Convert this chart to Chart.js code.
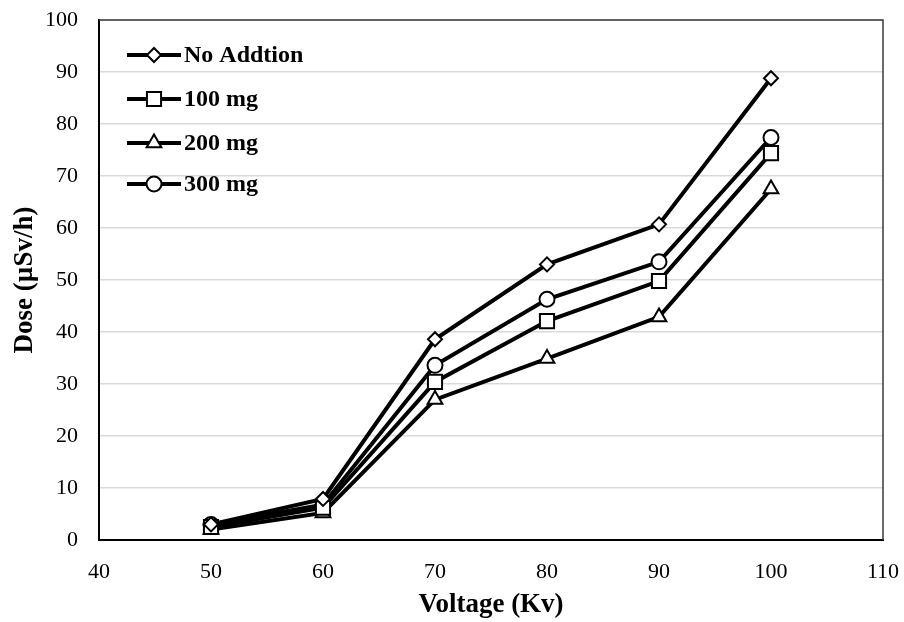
<!DOCTYPE html>
<html lang="en">
<head>
    <meta charset="UTF-8">
    <title>Dose vs Voltage</title>
    <script src="https://cdn.jsdelivr.net/npm/chart.js"></script>
    <style>
        body {
            margin: 0;
            padding: 0;
            background-color: #ffffff;
        }
    </style>
</head>
<body>
    <canvas id="doseChart" width="904" height="622"></canvas>

    <script>
        // voltage (Kv) on the x axis
        const voltages = [50, 60, 70, 80, 90, 100];

        // dose readings (µSv/h) for each addition
        const noAddition = [3.0, 7.9, 38.6, 53.0, 60.7, 88.8];
        const mg100 = [2.5, 6.2, 30.4, 42.1, 49.8, 74.4];
        const mg200 = [2.0, 5.2, 27.0, 34.9, 42.9, 67.5];
        const mg300 = [3.0, 6.8, 33.6, 46.3, 53.5, 77.4];

        const seriesLabels = ['No Addtion', '100 mg', '200 mg', '300 mg'];

        const serif = "'Liberation Serif', 'Times New Roman', serif";

        function toPoints(values) {
            return voltages.map((v, i) => ({ x: v, y: values[i] }));
        }

        function makeSet(label, values, shape, radius) {
            return {
                label: label,
                data: toPoints(values),
                borderColor: '#000000',
                borderWidth: 4,
                pointStyle: shape,
                pointRadius: radius,
                pointBorderWidth: 2,
                pointBackgroundColor: '#ffffff',
                pointBorderColor: '#000000',
                fill: false,
                tension: 0
            };
        }

        // thin frame on the top and right of the plot area
        const plotFrame = {
            id: 'plotFrame',
            beforeDatasetsDraw(chart) {
                const { ctx, chartArea: a } = chart;
                ctx.save();
                ctx.strokeStyle = '#3a3a3a';
                ctx.lineWidth = 1.5;
                ctx.beginPath();
                ctx.moveTo(a.left, a.top);
                ctx.lineTo(a.right, a.top);
                ctx.lineTo(a.right, a.bottom);
                ctx.stroke();
                ctx.restore();
            }
        };

        // legend drawn inside the plot area, top left
        const insideLegend = {
            id: 'insideLegend',
            afterDatasetsDraw(chart) {
                const ctx = chart.ctx;
                const area = chart.chartArea;
                const x0 = area.left + 28;
                const lineLen = 54;
                const rows = [35, 79, 123, 164];
                ctx.save();
                chart.data.datasets.forEach((ds, i) => {
                    const y = area.top + rows[i];
                    ctx.strokeStyle = '#000000';
                    ctx.lineWidth = 4;
                    ctx.beginPath();
                    ctx.moveTo(x0, y);
                    ctx.lineTo(x0 + lineLen, y);
                    ctx.stroke();
                    ctx.fillStyle = '#ffffff';
                    ctx.strokeStyle = '#000000';
                    ctx.lineWidth = 2;
                    Chart.helpers.drawPoint(ctx, {
                        pointStyle: ds.pointStyle,
                        radius: ds.pointRadius,
                        borderWidth: 2,
                        rotation: 0
                    }, x0 + lineLen / 2, y);
                    ctx.fillStyle = '#000000';
                    ctx.font = 'bold 24px ' + serif;
                    ctx.textAlign = 'left';
                    ctx.textBaseline = 'middle';
                    ctx.fillText(ds.label, x0 + lineLen + 3, y + 1);
                });
                ctx.restore();
            }
        };

        const ctx = document.getElementById('doseChart').getContext('2d');
        const chart = new Chart(ctx, {
            type: 'line',
            data: {
                datasets: [
                    makeSet(seriesLabels[0], noAddition, 'rectRot', 7),
                    makeSet(seriesLabels[1], mg100, 'rect', 10),
                    makeSet(seriesLabels[2], mg200, 'triangle', 8.5),
                    makeSet(seriesLabels[3], mg300, 'circle', 7.5)
                ]
            },
            plugins: [plotFrame, insideLegend],
            options: {
                responsive: false,
                animation: false,
                layout: {
                    padding: { left: 0, right: 21, top: 20, bottom: 0 }
                },
                plugins: {
                    legend: { display: false },
                    tooltip: { enabled: false }
                },
                scales: {
                    x: {
                        type: 'linear',
                        min: 40,
                        max: 110,
                        afterFit: (scale) => {
                            scale.height = 82;
                            scale.paddingLeft = 0;
                            scale.paddingRight = 0;
                        },
                        ticks: {
                            stepSize: 10,
                            color: '#000000',
                            padding: 19,
                            font: { family: serif, size: 22 }
                        },
                        grid: { display: false, drawTicks: false },
                        border: { color: '#000000', width: 2 },
                        title: {
                            display: true,
                            text: 'Voltage (Kv)',
                            color: '#000000',
                            font: { family: serif, size: 27, weight: 'bold' },
                            padding: { top: 0, bottom: 1 }
                        }
                    },
                    y: {
                        min: 0,
                        max: 100,
                        afterFit: (scale) => {
                            scale.width = 99;
                            scale.paddingTop = 0;
                            scale.paddingBottom = 0;
                        },
                        ticks: {
                            stepSize: 10,
                            color: '#000000',
                            padding: 21,
                            font: { family: serif, size: 22 }
                        },
                        grid: { color: '#d9d9d9', lineWidth: 1.5, drawTicks: false },
                        border: { color: '#000000', width: 2 },
                        title: {
                            display: true,
                            text: 'Dose (µSv/h)',
                            color: '#000000',
                            font: { family: serif, size: 27, weight: 'bold' },
                            padding: { top: 9, bottom: 0 }
                        }
                    }
                }
            }
        });
    </script>
</body>
</html>
